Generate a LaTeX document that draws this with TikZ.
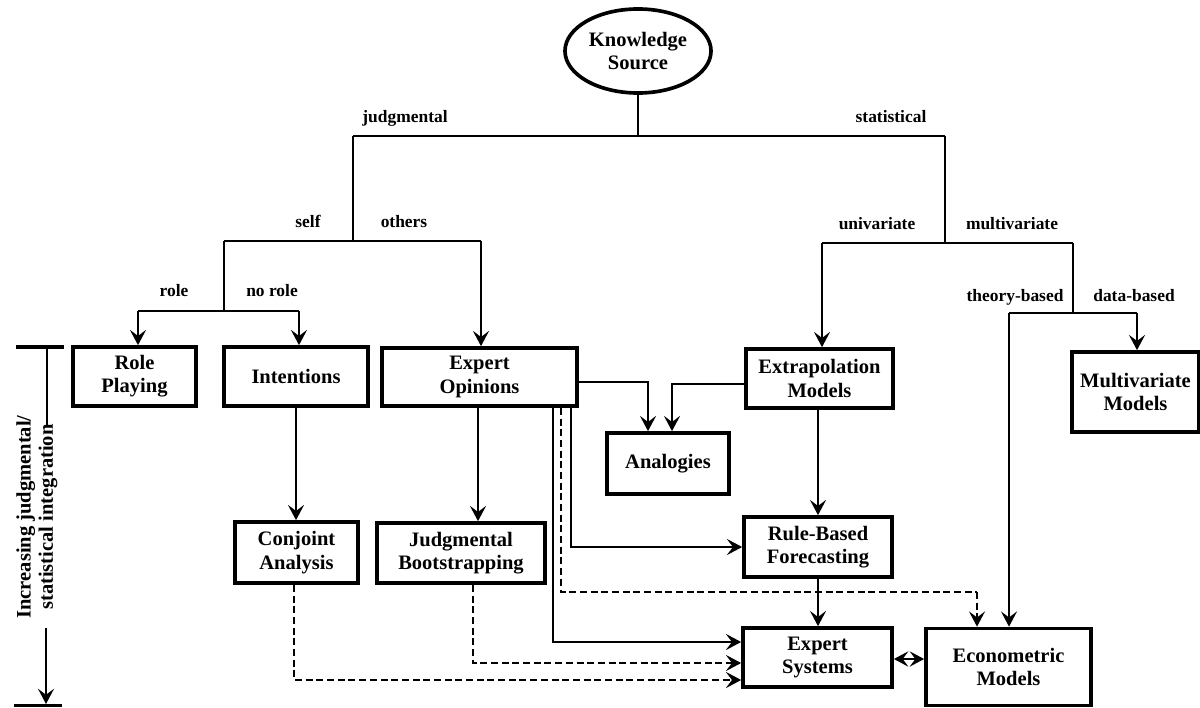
\documentclass[tikz,border=0pt]{standalone}
\usepackage{fontspec}
\setmainfont{Liberation Serif}
\usetikzlibrary{arrows.meta,shapes.geometric}
\begin{document}
\begin{tikzpicture}[x=0.025cm,y=-0.025cm,
  box/.style={draw,line width=2.6pt,align=center,inner sep=1pt,font=\bfseries\fontsize{14.6}{16.5}\selectfont},
  lbl/.style={anchor=base,inner sep=0pt,font=\bfseries\fontsize{12.4}{14}\selectfont},
  conn/.style={line width=1.5pt},
  tip/.style={-{Stealth[length=0.38cm,width=0.4cm,inset=0.15cm]}},
  arr/.style={conn,tip},
  dline/.style={conn,dash pattern=on 5pt off 2.6pt},
  darr/.style={dline,tip}]
\useasboundingbox (0,0) rectangle (1200,708);

% ---- nodes
\node[box,ellipse,inner sep=0pt,minimum width=3.65cm,minimum height=2.1cm] (ks) at (638,51) {Knowledge\\Source};
\node[box,minimum width=3.075cm,minimum height=1.475cm] (rp) at (134.5,376.5) {Role\\Playing};
\node[box,minimum width=3.6cm,minimum height=1.475cm] (in) at (296,376.5) {Intentions};
\node[box,minimum width=4.875cm,minimum height=1.45cm] (eo) at (479.5,377) {Expert\\Opinions};
\node[box,minimum width=3.675cm,minimum height=1.475cm] (ex) at (819.5,378.5) {Extrapolation\\Models};
\node[box,minimum width=3.175cm,minimum height=2.0cm] (mm) at (1135.5,392) {Multivariate\\Models};
\node[box,minimum width=3.05cm,minimum height=1.525cm] (an) at (668,463.5) {Analogies};
\node[box,minimum width=3.7cm,minimum height=1.5cm] (rb) at (818,547) {Rule-Based\\Forecasting};
\node[box,minimum width=3.725cm,minimum height=1.475cm] (es) at (817.5,657.5) {Expert\\Systems};
\node[box,minimum width=4.125cm,minimum height=1.925cm] (em) at (1008.5,667) {Econometric\\Models};
\node[box,minimum width=3.075cm,minimum height=1.525cm] (ca) at (296.5,552.5) {Conjoint\\Analysis};
\node[box,minimum width=4.2cm,minimum height=1.5cm] (jb) at (461,553) {Judgmental\\Bootstrapping};

% ---- labels
\node[lbl] (lj) at (405,123) {judgmental};
\node[lbl] (ls) at (891,123) {statistical};
\node[lbl] (lself) at (308,228) {self};
\node[lbl] (loth) at (404,228) {others};
\node[lbl] (lrole) at (174,296) {role};
\node[lbl] (lnorole) at (272,296) {no role};
\node[lbl] (luni) at (877,229) {univariate};
\node[lbl] (lmul) at (1012,229) {multivariate};
\node[lbl] (ltheo) at (1015,301) {theory-based};
\node[lbl] (ldata) at (1134,301) {data-based};

% ---- junction coordinates
\coordinate (top) at (638,136);
\coordinate (jud) at (353,136);
\coordinate (sta) at (945,136);
\coordinate (jud2) at (353,241);
\coordinate (self) at (224,241);
\coordinate (oth) at (481,241);
\coordinate (self2) at (224,311);
\coordinate (role) at (138,311);
\coordinate (norole) at (299,311);
\coordinate (sta2) at (945,243);
\coordinate (uni) at (822,243);
\coordinate (mul) at (1073,243);
\coordinate (mul2) at (1073,313);
\coordinate (theo) at (1009,313);
\coordinate (data) at (1137,313);
\coordinate (lvA) at (0,382);
\coordinate (lvB) at (0,384);
\coordinate (xA1) at (648,0);
\coordinate (xA2) at (672,0);
\coordinate (xS1) at (553,0);
\coordinate (xS2) at (561,0);
\coordinate (xS3) at (571,0);
\coordinate (lvES) at (0,642);
\coordinate (lvD) at (0,592);
\coordinate (xE) at (977,0);
\coordinate (xJ) at (473,0);
\coordinate (xJB) at (478,0);
\coordinate (xC) at (294,0);
\coordinate (lvC1) at (0,680);
\coordinate (lvC2) at (0,663);
\coordinate (lvEE) at (0,659);

% ---- tree
\draw[conn] (ks.south) -- (top);
\draw[conn] (jud) -- (sta);
\draw[conn] (jud) -- (jud2);
\draw[conn] (self) -- (oth);
\draw[conn] (self) -- (self2);
\draw[conn] (role) -- (norole);
\draw[arr] (role) -- (role |- rp.north);
\draw[arr] (norole) -- (norole |- in.north);
\draw[arr] (oth) -- (oth |- eo.north);
\draw[conn] (sta) -- (sta2);
\draw[conn] (uni) -- (mul);
\draw[arr] (uni) -- (uni |- ex.north);
\draw[conn] (mul) -- (mul2);
\draw[conn] (theo) -- (data);
\draw[arr] (data) -- (data |- mm.north);
\draw[arr] (theo) -- (theo |- em.north);

% ---- method links
\draw[arr] (in.south) -- (in.south |- ca.north);
\draw[arr] (xJB |- eo.south) -- (xJB |- jb.north);
\draw[arr] (eo.east |- lvA) -| (xA1 |- an.north);
\draw[arr] (ex.west |- lvB) -| (xA2 |- an.north);
\draw[arr] (ex.south -| rb.north) -- (rb.north);
\draw[arr] (rb.south) -- (rb.south |- es.north);
\draw[arr] (xS1 |- eo.south) |- (es.west |- lvES);
\draw[arr] (xS3 |- eo.south) |- (rb.west);
\draw[dline] (xS2 |- eo.south) |- (xE |- lvD);
\draw[darr] (xE |- lvD) -- (xE |- em.north);
\draw[darr] (xJ |- jb.south) |- (es.west |- lvC2);
\draw[darr] (xC |- ca.south) |- (es.west |- lvC1);
\draw[conn,{Stealth[length=0.36cm,width=0.38cm,inset=0.14cm]}-{Stealth[length=0.36cm,width=0.38cm,inset=0.14cm]}] (es.east |- lvEE) -- (em.west |- lvEE);

% ---- axis
\node[rotate=90,align=center,inner sep=0pt,font=\bfseries\fontsize{14.6}{15.8}\selectfont] (axis) at (37,517) {Increasing judgmental/\\statistical integration};
\coordinate (axT) at (47,347);
\coordinate (axT2) at (47,425);
\coordinate (axB1) at (46,628);
\coordinate (axB) at (46,704);
\draw[line width=2.8pt] (16,347) -- (64,347);
\draw[conn] (axT) -- (axT2);
\draw[arr] (axB1) -- (axB);
\draw[line width=2.8pt] (14,705.5) -- (62,705.5);
\end{tikzpicture}
\end{document}
